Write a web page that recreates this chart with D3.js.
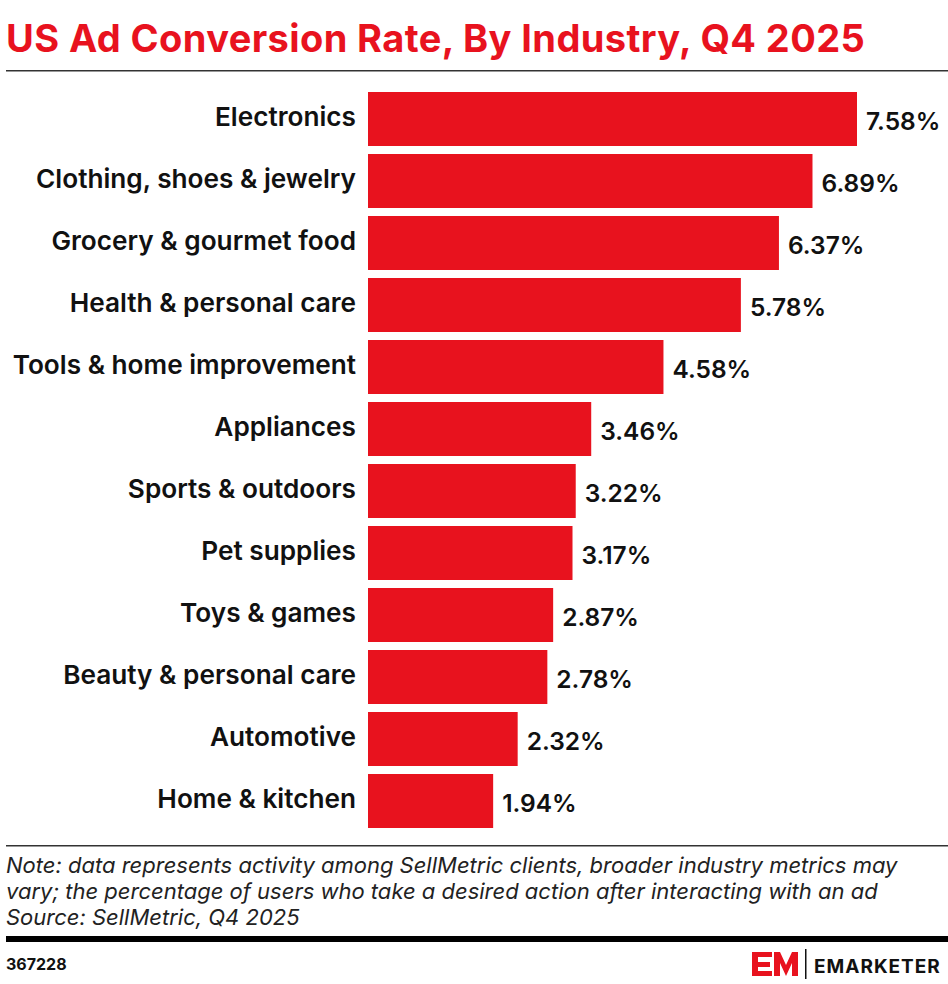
<!DOCTYPE html>
<html><head><meta charset="utf-8">
<script src="https://cdn.jsdelivr.net/npm/d3@7"></script>
<style>body{margin:0;background:#fff}svg{display:block;font-family:Inter,"Noto Sans",sans-serif}</style>
</head><body><svg id="c" width="948" height="984"></svg>
<script>
const categories = ["Electronics","Clothing, shoes & jewelry","Grocery & gourmet food","Health & personal care","Tools & home improvement","Appliances","Sports & outdoors","Pet supplies","Toys & games","Beauty & personal care","Automotive","Home & kitchen"];
const values = [7.58,6.89,6.37,5.78,4.58,3.46,3.22,3.17,2.87,2.78,2.32,1.94];
const noteLines = ["Note: data represents activity among SellMetric clients, broader industry metrics may","vary; the percentage of users who take a desired action after interacting with an ad","Source: SellMetric, Q4 2025"];

const svg = d3.select("#c");
svg.append("text").attr("x",6).attr("y",52).attr("fill","#e8121e").attr("font-size",38).attr("font-weight",700).attr("letter-spacing","0.4").text("US Ad Conversion Rate, By Industry, Q4 2025");
svg.append("rect").attr("x",6).attr("y",70).attr("width",942).attr("height",1.5).attr("fill","#333");

const x = d3.scaleLinear().domain([0,7.58]).range([368,857]);
const y = d3.scaleBand().domain(categories).range([88,832]).paddingInner(0.129).paddingOuter(0.0645);
const data = categories.map((c,i)=>({c,v:values[i]}));
svg.selectAll("rect.bar").data(data).join("rect").attr("class","bar")
 .attr("x",x(0)).attr("y",d=>y(d.c)).attr("width",d=>x(d.v)-x(0)).attr("height",y.bandwidth()).attr("fill","#e8121e");
svg.selectAll("text.lab").data(data).join("text").attr("class","lab")
 .attr("x",356).attr("y",d=>y(d.c)+y.bandwidth()/2-2).attr("dy","0.35em").attr("text-anchor","end")
 .attr("font-size",26.2).attr("font-weight",600).attr("fill","#111").text(d=>d.c);
svg.selectAll("text.val").data(data).join("text").attr("class","val")
 .attr("x",d=>x(d.v)+9).attr("y",d=>y(d.c)+y.bandwidth()/2+2).attr("dy","0.35em")
 .attr("font-size",24.5).attr("font-weight",600).attr("fill","#111").text(d=>d.v.toFixed(2)+"%");

svg.append("rect").attr("x",6).attr("y",845).attr("width",942).attr("height",1.5).attr("fill","#333");
noteLines.forEach((t,i)=>svg.append("text").attr("x",6).attr("y",873+i*26).attr("font-size",22).attr("font-style","italic").attr("fill","#222").text(t));
svg.append("rect").attr("x",6).attr("y",936).attr("width",942).attr("height",6).attr("fill","#000");
svg.append("text").attr("x",6).attr("y",970).attr("font-size",16).attr("font-weight",700).attr("fill","#111").text("367228");
// logo
const g = svg.append("g").attr("transform","translate(752,952)");
g.append("path").attr("d","M0,0H20V5H6V10H18V15H6V19H20V24H0Z").attr("fill","#e8121e");
g.append("path").attr("d","M22,24V0H28L34,13L40,0H46V24H40V11L34,24L28,11V24Z").attr("fill","#e8121e");
g.append("rect").attr("x",53).attr("y",-3).attr("width",1.5).attr("height",30).attr("fill","#111");
g.append("text").attr("x",62).attr("y",21).attr("font-size",19).attr("font-weight",700).attr("letter-spacing","1").attr("fill","#111").text("EMARKETER");
</script></body></html>
